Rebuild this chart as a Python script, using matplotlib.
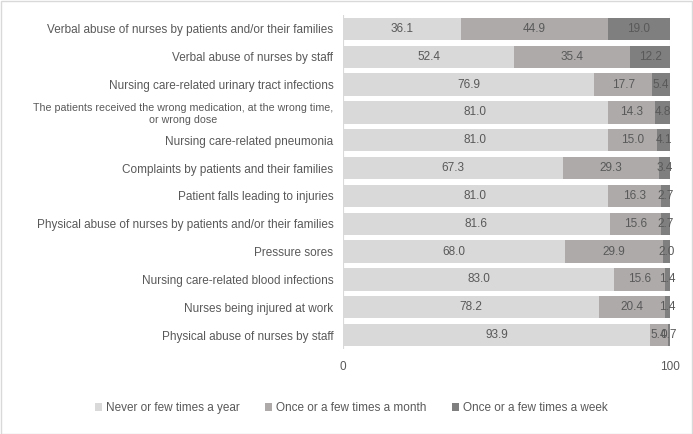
import matplotlib.pyplot as plt
import numpy as np

plt.rcParams["font.family"] = ["Liberation Sans", "DejaVu Sans"]

categories = [
    "Verbal abuse of nurses by patients and/or their families",
    "Verbal abuse of nurses by staff",
    "Nursing care-related urinary tract infections",
    "The patients received the wrong medication, at the wrong time,\nor wrong dose",
    "Nursing care-related pneumonia",
    "Complaints by patients and their families",
    "Patient falls leading to injuries",
    "Physical abuse of nurses by patients and/or their families",
    "Pressure sores",
    "Nursing care-related blood infections",
    "Nurses being injured at work",
    "Physical abuse of nurses by staff",
]
never = [36.1, 52.4, 76.9, 81.0, 81.0, 67.3, 81.0, 81.6, 68.0, 83.0, 78.2, 93.9]
monthly = [44.9, 35.4, 17.7, 14.3, 15.0, 29.3, 16.3, 15.6, 29.9, 15.6, 20.4, 5.4]
weekly = [19.0, 12.2, 5.4, 4.8, 4.1, 3.4, 2.7, 2.7, 2.0, 1.4, 1.4, 0.7]
series_names = ["Never or few times a year", "Once or a few times a month", "Once or a few times a week"]
colors = ["#d9d9d9", "#aeaaaa", "#7f7f7f"]
text_color = "#595959"
fs = 8.5

fig = plt.figure(figsize=(6.93, 4.34), dpi=100)
ax = fig.add_axes([343 / 693, 1 - 349 / 434, 327 / 693, 334 / 434])

y = np.arange(len(categories))
left = np.zeros(len(categories))
for vals, name, c in zip([never, monthly, weekly], series_names, colors):
    vals = np.array(vals)
    ax.barh(y, vals, left=left, height=0.8, color=c, label=name, zorder=2)
    for yi, l, v in zip(y, left, vals):
        ax.text(l + v / 2, yi, f"{v:.1f}", ha="center", va="center",
                fontsize=fs, color=text_color, zorder=3)
    left = left + vals

ax.set_xlim(0, 100)
ax.set_ylim(len(categories) - 0.5, -0.5)
ax.set_yticks(y)
ax.set_yticklabels(categories, fontsize=fs, color=text_color, multialignment="center")
# the two-line label is a bit narrower in the original
for lbl in ax.get_yticklabels():
    if "\n" in lbl.get_text():
        lbl.set_fontsize(7.7)
ax.set_xticks([0, 100])
ax.tick_params(axis="x", labelsize=fs, labelcolor=text_color, length=0, pad=9)
ax.tick_params(axis="y", length=0, pad=7)
ax.grid(axis="x", color="#d9d9d9", linewidth=0.8, zorder=0)
for s in ["top", "right", "bottom", "left"]:
    ax.spines[s].set_visible(False)

fig.legend(loc="center", bbox_to_anchor=(0.507, 1 - 408 / 434), ncol=3, frameon=False,
           fontsize=fs, labelcolor=text_color, handlelength=0.6, handleheight=0.6,
           handletextpad=0.3, columnspacing=2.2)

# light outer border
fig.patches.append(plt.Rectangle((0.001, 0.001), 0.998, 0.997, transform=fig.transFigure,
                                 fill=False, edgecolor="#d9d9d9", linewidth=1))

fig.savefig("out.png", dpi=100)
